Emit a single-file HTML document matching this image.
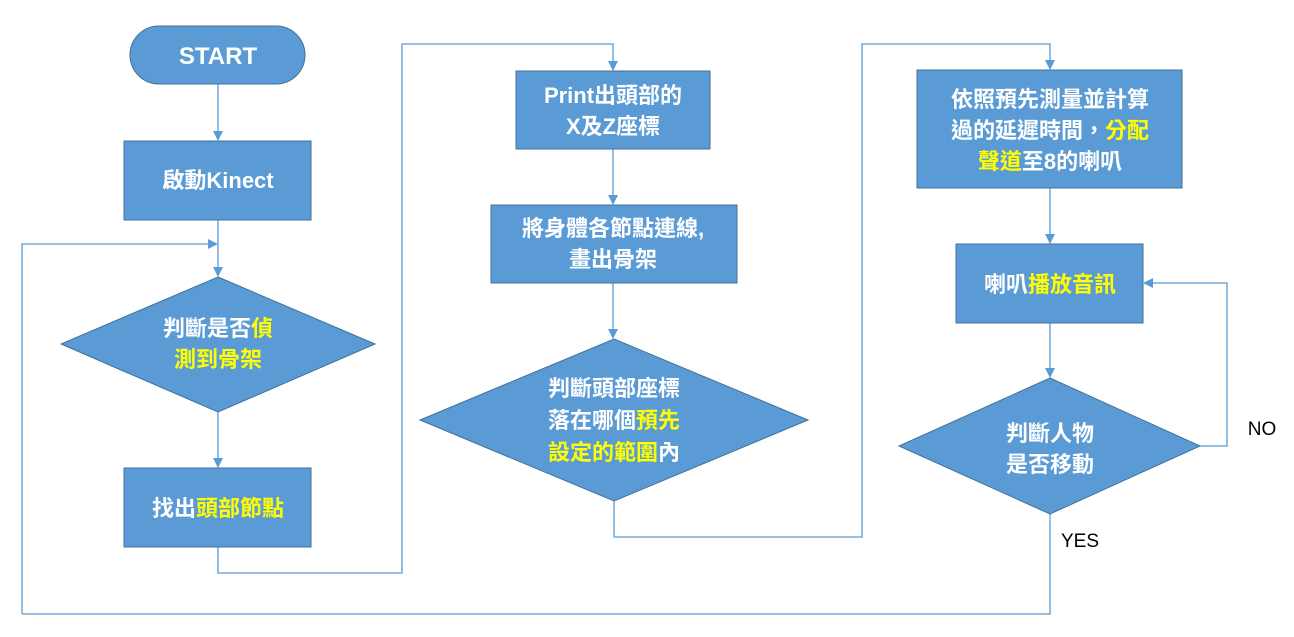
<!DOCTYPE html>
<html><head><meta charset="utf-8"><style>
html,body{margin:0;padding:0;background:#fff;}
svg text{font-family:"Liberation Sans","Noto Sans CJK TC",sans-serif;font-size:22px;font-weight:bold;fill:#fff;text-anchor:middle;}
.y{fill:#ffff00;}
.k{fill:#000;font-weight:normal;}
</style></head><body>
<svg width="1294" height="632" viewBox="0 0 1294 632" xmlns="http://www.w3.org/2000/svg">
<defs><marker id="a" markerWidth="10" markerHeight="10" refX="9" refY="5" orient="auto" markerUnits="userSpaceOnUse"><path d="M0,0 L10,5 L0,10 z" fill="#5b9bd5"/></marker></defs>
<g fill="none" stroke="#5b9bd5" stroke-width="1.3">
<line x1="218" y1="84" x2="218" y2="140" marker-end="url(#a)"/>
<line x1="218" y1="220" x2="218" y2="276" marker-end="url(#a)"/>
<line x1="218" y1="412" x2="218" y2="467" marker-end="url(#a)"/>
<polyline points="22,614 22,244 217,244" marker-end="url(#a)"/>
<polyline points="1050,514 1050,614 22,614"/>
<polyline points="218,547 218,573 402,573 402,44 613,44 613,70" marker-end="url(#a)"/>
<line x1="613" y1="149" x2="613" y2="204" marker-end="url(#a)"/>
<line x1="613" y1="283" x2="613" y2="338" marker-end="url(#a)"/>
<polyline points="614,501 614,537 862,537 862,44 1050,44 1050,69" marker-end="url(#a)"/>
<line x1="1050" y1="188" x2="1050" y2="243" marker-end="url(#a)"/>
<line x1="1050" y1="323" x2="1050" y2="377" marker-end="url(#a)"/>
<polyline points="1200,446 1227,446 1227,283 1144,283" marker-end="url(#a)"/>
</g>
<g fill="#5b9bd5" stroke="#41719c" stroke-width="1">
<rect x="130" y="26" width="175" height="58" rx="29"/>
<rect x="124" y="141" width="187" height="79"/>
<polygon points="218,277 375,344 218,412 61,344"/>
<rect x="124" y="468" width="187" height="79"/>
<rect x="516" y="71" width="194" height="78"/>
<rect x="491" y="205" width="246" height="78"/>
<polygon points="614,339 808,420 614,501 420,420"/>
<rect x="917" y="70" width="265" height="118"/>
<rect x="956" y="244" width="187" height="79"/>
<polygon points="1050,378 1200,446 1050,514 899,446"/>
</g>
<text x="218" y="64" style="font-size:24px">START</text>
<text x="218" y="188">啟動Kinect</text>
<text x="218" y="336">判斷是否<tspan class="y">偵</tspan></text>
<text x="218" y="367" class="y">測到骨架</text>
<text x="218" y="516">找出<tspan class="y">頭部節點</tspan></text>
<text x="613" y="103">Print出頭部的</text>
<text x="613" y="134">X及Z座標</text>
<text x="613" y="236">將身體各節點連線,</text>
<text x="613" y="267">畫出骨架</text>
<text x="614" y="396">判斷頭部座標</text>
<text x="614" y="428">落在哪個<tspan class="y">預先</tspan></text>
<text x="614" y="460"><tspan class="y">設定的範圍</tspan>內</text>
<text x="1050" y="107">依照預先測量並計算</text>
<text x="1050" y="138">過的延遲時間，<tspan class="y">分配</tspan></text>
<text x="1050" y="169"><tspan class="y">聲道</tspan>至8的喇叭</text>
<text x="1050" y="292">喇叭<tspan class="y">播放音訊</tspan></text>
<text x="1050" y="441">判斷人物</text>
<text x="1050" y="472">是否移動</text>
<text x="1262" y="435" class="k" style="font-size:19px">NO</text>
<text x="1080" y="547" class="k" style="font-size:19px">YES</text>
</svg>
</body></html>
